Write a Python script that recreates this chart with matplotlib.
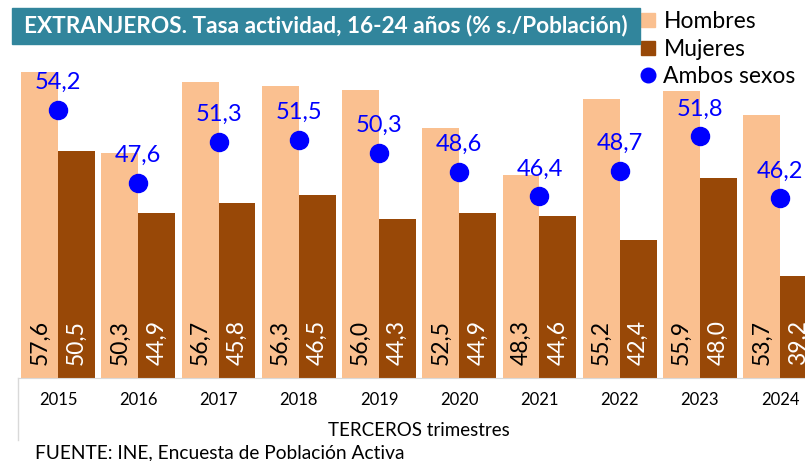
import numpy as np
import matplotlib
matplotlib.use('Agg')
import matplotlib.pyplot as plt
from matplotlib.lines import Line2D
from matplotlib.patches import Rectangle

plt.rcParams['font.family'] = ['Lato', 'DejaVu Sans']

# datos: tasa de actividad 16-24 años, extranjeros, terceros trimestres
anios = ['2015', '2016', '2017', '2018', '2019', '2020', '2021', '2022', '2023', '2024']
hombres = [57.6, 50.3, 56.7, 56.3, 56.0, 52.5, 48.3, 55.2, 55.9, 53.7]
mujeres = [50.5, 44.9, 45.8, 46.5, 44.3, 44.9, 44.6, 42.4, 48.0, 39.2]
ambos = [54.2, 47.6, 51.3, 51.5, 50.3, 48.6, 46.4, 48.7, 51.8, 46.2]

c_h = '#FAC090'
c_m = '#984807'
c_a = '#0000FF'

fig = plt.figure(figsize=(8.05, 4.61), dpi=100)
ax = fig.add_axes([0.0224, 0.18, 0.9776, 0.794])

x = np.arange(len(anios))
w = 0.46
ax.bar(x - w / 2, hombres, w, color=c_h)
ax.bar(x + w / 2, mujeres, w, color=c_m)
ax.plot(x, ambos, 'o', color=c_a, markersize=13, zorder=5)

fmt = lambda v: f'{v:.1f}'.replace('.', ',')
for i in range(len(anios)):
    ax.text(x[i] - w / 2, 31.2, fmt(hombres[i]), rotation=90, ha='center', va='bottom',
            fontsize=16.5, color='black')
    ax.text(x[i] + w / 2, 31.2, fmt(mujeres[i]), rotation=90, ha='center', va='bottom',
            fontsize=16.5, color='white')
    ax.text(x[i], ambos[i] + 1.5, fmt(ambos[i]), ha='center', va='bottom',
            fontsize=17, color=c_a, zorder=6)

ax.set_ylim(30, 63)
ax.set_xlim(-0.5, 9.31)
ax.set_yticks([])
ax.set_xticks(x)
ax.set_xticklabels(anios, fontsize=12)
ax.tick_params(axis='x', length=0, pad=10)
for s in ['top', 'right', 'left']:
    ax.spines[s].set_visible(False)
ax.spines['bottom'].set_color('#D9D9D9')

# linea vertical gris bajo el eje
fig.add_artist(Line2D([0.0224, 0.0224], [0.18, 0.045], color='#D9D9D9', lw=1))

# titulo en caja
fig.add_artist(Rectangle((12 / 805, 1 - 44 / 461), 628 / 805, 36 / 461,
                         color='#31859C', transform=fig.transFigure, zorder=10))
titulo = fig.text(24 / 805, 1 - 26 / 461, 'EXTRANJEROS. Tasa actividad, 16-24 años (% s./Población)',
                  color='white', fontsize=14, fontweight='bold', va='center', ha='left', zorder=11)
# ajustar tamaño para que quepa en la caja
r = fig.canvas.get_renderer()
ancho = titulo.get_window_extent(r).width
titulo.set_fontsize(14 * 608 / ancho)

handles = [Line2D([], [], marker='s', color=c_h, linestyle='', markersize=10.5),
           Line2D([], [], marker='s', color=c_m, linestyle='', markersize=10.5),
           Line2D([], [], marker='o', color=c_a, linestyle='', markersize=10.5)]
fig.legend(handles, ['Hombres', 'Mujeres', 'Ambos sexos'], loc='upper left',
           bbox_to_anchor=(629 / 805, 1.0), frameon=False, fontsize=16.5,
           handlelength=0.7, handletextpad=0.3, labelspacing=0.28, borderaxespad=0.1)

fig.text(419 / 805, 1 - 430 / 461, 'TERCEROS trimestres', fontsize=13.5, ha='center', va='center')
fig.text(35 / 805, 1 - 453 / 461, 'FUENTE: INE, Encuesta de Población Activa', fontsize=13.8,
         ha='left', va='center')

fig.savefig('out.png', dpi=100)
